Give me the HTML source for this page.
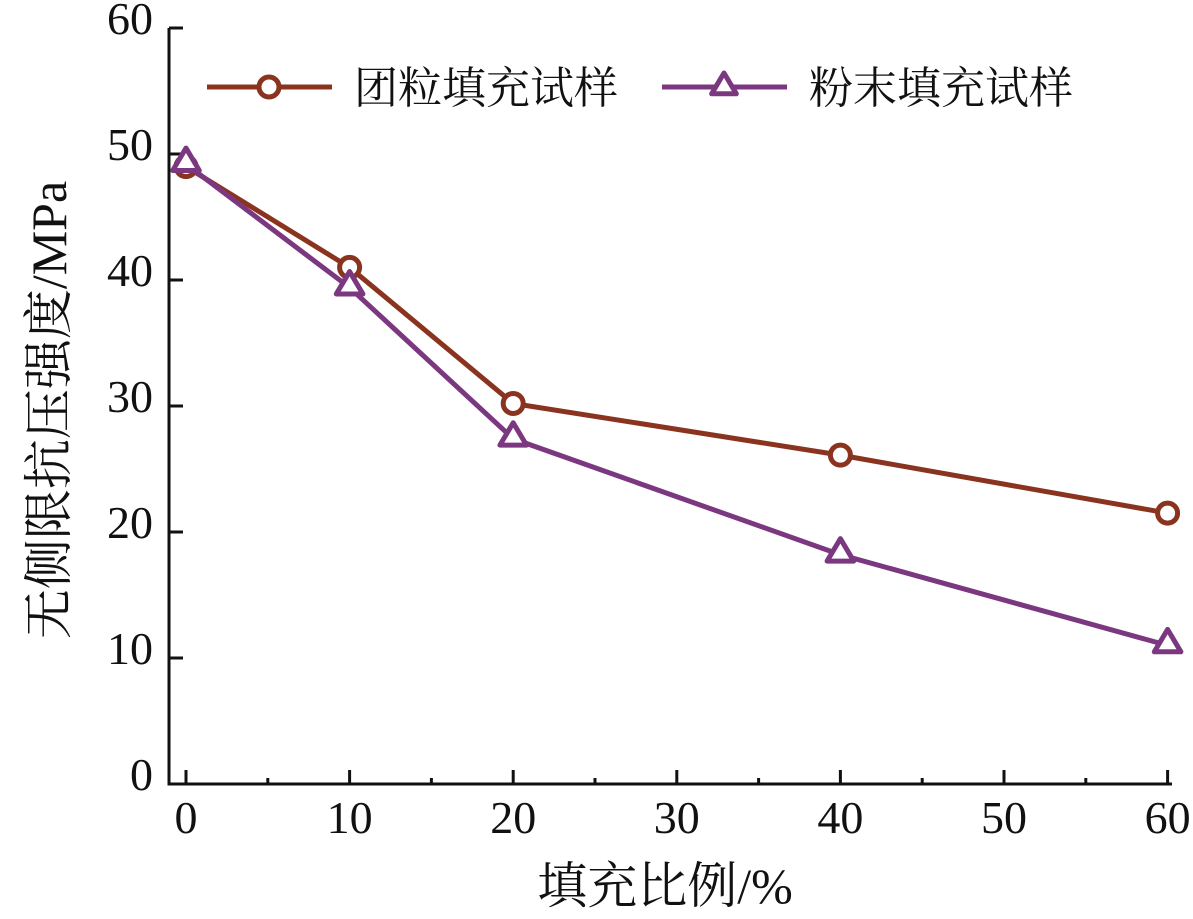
<!DOCTYPE html>
<html><head><meta charset="utf-8">
<style>
html,body{margin:0;padding:0;background:#fff;}
svg{display:block;font-family:"Liberation Serif","Noto Serif CJK SC",serif;}
</style></head>
<body>
<svg id="chart" width="1193" height="919" viewBox="0 0 1193 919" xmlns="http://www.w3.org/2000/svg"></svg>
<script>
const categories = [0, 10, 20, 40, 60];
const granuleValues = [49.0, 41.0, 30.2, 26.1, 21.5];
const powderValues = [49.2, 39.4, 27.4, 18.2, 11.0];
const xTickLabels = [0, 10, 20, 30, 40, 50, 60];
const yTickLabels = [0, 10, 20, 30, 40, 50, 60];

const NS = "http://www.w3.org/2000/svg";
const svg = document.getElementById('chart');
const x0 = 186, xPer = 16.36, y0 = 784, yPer = 12.6, axL = 169, axR = 1172;
function sx(v){ return x0 + v * xPer; }
function sy(v){ return y0 - v * yPer; }
function mk(tag, attrs, parent){
  const e = document.createElementNS(NS, tag);
  for (const k in attrs) e.setAttribute(k, attrs[k]);
  (parent || svg).appendChild(e);
  return e;
}
const RED = "#8a3420", PUR = "#7b3880";

const axes = mk('path', {d:`M${axL},${sy(60)} L${axL},${y0} L${axR},${y0}`, fill:'none', stroke:'#111', 'stroke-width':3});



yTickLabels.forEach(v => {
  if (v > 0) {
    const t = mk('line', {x1:axL, x2:axL+14, y1:sy(v), y2:sy(v), stroke:'#111', 'stroke-width':3});
    
    
  }
  const l = mk('text', {x:153, y:sy(v)+6, 'text-anchor':'end', 'font-size':46, fill:'#111'});
  l.textContent = v;
  
  
});
xTickLabels.forEach(v => {
  const t = mk('line', {x1:sx(v), x2:sx(v), y1:y0, y2:y0-14, stroke:'#111', 'stroke-width':3});
  
  
  if (v < 60) {
    const m = mk('line', {x1:sx(v+5), x2:sx(v+5), y1:y0, y2:y0-6, stroke:'#111', 'stroke-width':3});
    
    
  }
  const l = mk('text', {x:sx(v), y:833, 'text-anchor':'middle', 'font-size':46, fill:'#111'});
  l.textContent = v;
  
  
});

const xt = mk('text', {x:665, y:903, 'text-anchor':'middle', 'font-size':50, fill:'#111'});
xt.textContent = '填充比例/%';


const yt = mk('text', {x:0, y:0, 'text-anchor':'middle', 'font-size':50, fill:'#111', transform:'translate(66,410) rotate(-90)'});
yt.textContent = '无侧限抗压强度/MPa';



function tri(cx, cy, s){ return `M${cx},${cy-s} L${cx+s*0.95},${cy+s*0.6} L${cx-s*0.95},${cy+s*0.6} Z`; }

function series(vals, color, name, marker){
  const g = mk('g', {});
  
  
  const pts = vals.map((v,i)=>`${sx(categories[i])},${sy(v)}`).join(' ');
  const pl = mk('polyline', {points:pts, fill:'none', stroke:color, 'stroke-width':5}, g);
  
  
  vals.forEach((v,i)=>{
    let m;
    if (marker === 'circle') m = mk('circle', {cx:sx(categories[i]), cy:sy(v), r:10, fill:'#fff', stroke:color, 'stroke-width':5}, g);
    else m = mk('path', {d:tri(sx(categories[i]), sy(v)-2, 14), fill:'#fff', stroke:color, 'stroke-width':5, 'stroke-linejoin':'round'}, g);
    
    
  });
}
series(granuleValues, RED, 'granule-series', 'circle');
series(powderValues, PUR, 'powder-series', 'tri');

const lg = mk('g', {});


function legendEntry(x, color, label, marker){
  const g = mk('g', {}, lg);
  
  
  mk('line', {x1:x, x2:x+125, y1:87, y2:87, stroke:color, 'stroke-width':5}, g);
  if (marker === 'circle') mk('circle', {cx:x+62, cy:87, r:10, fill:'#fff', stroke:color, 'stroke-width':5}, g);
  else mk('path', {d:tri(x+62, 86, 13), fill:'#fff', stroke:color, 'stroke-width':5, 'stroke-linejoin':'round'}, g);
  const t = mk('text', {x:x+147, y:103, 'font-size':44, fill:'#111'}, g);
  t.textContent = label;
}
legendEntry(207, RED, '团粒填充试样', 'circle');
legendEntry(662, PUR, '粉末填充试样', 'tri');
</script>
</body></html>
